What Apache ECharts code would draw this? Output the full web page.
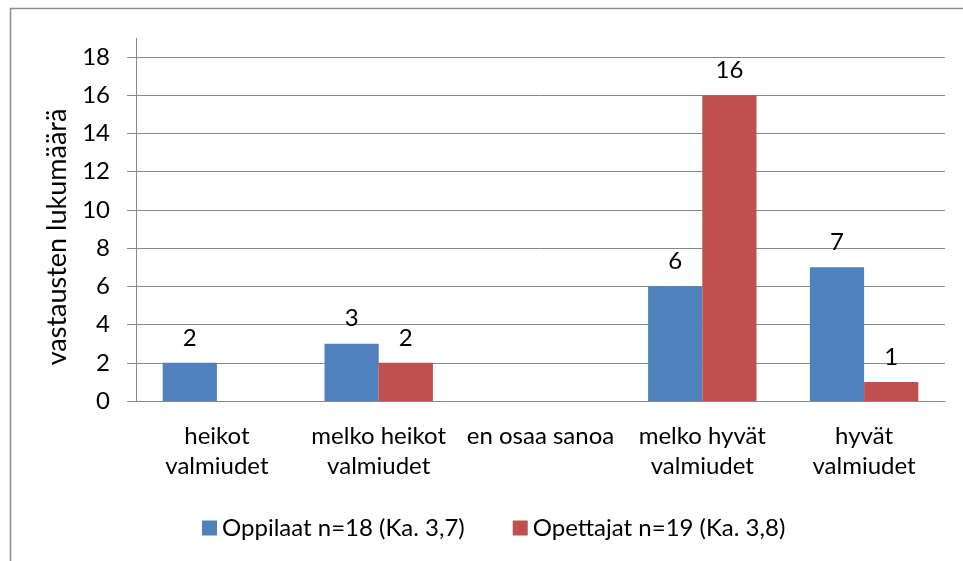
<!DOCTYPE html>
<html>
<head>
<meta charset="utf-8">
<script src="https://cdn.jsdelivr.net/npm/echarts@6/dist/echarts.min.js"></script>
<style>
  html, body { margin: 0; padding: 0; background: #fff; }
  #chart { width: 963px; height: 561px; }
</style>
</head>
<body>
<div id="chart"></div>
<script>
// datos del gráfico
const kategoriat = ['heikot\nvalmiudet', 'melko heikot\nvalmiudet', 'en osaa sanoa', 'melko hyvät\nvalmiudet', 'hyvät\nvalmiudet'];
const oppilaat = [2, 3, 0, 6, 7];
const opettajat = [0, 2, 0, 16, 1];
const sarjaNimet = ['Oppilaat n=18 (Ka. 3,7)', 'Opettajat n=19 (Ka. 3,8)'];
const yNimi = 'vastausten lukumäärä';

const fontti = 'Lato, "Open Sans", sans-serif';
const harmaa = '#888888';
const koko = 24;

const chart = echarts.init(document.getElementById('chart'));

const etiketti = {
    show: true,
    position: 'top',
    distance: 13,
    color: '#000',
    fontSize: koko,
    fontFamily: fontti,
    formatter: p => (p.value === 0 ? '' : p.value)
};

const option = {
    animation: false,
    textStyle: { fontFamily: fontti },
    grid: { left: 136, top: 57, right: 18, bottom: 160 },
    legend: {
        left: 197,
        top: 511,
        itemWidth: 15,
        itemHeight: 15,
        itemGap: 48,
        icon: 'rect',
        textStyle: { fontSize: koko, color: '#000', fontFamily: fontti },
        data: sarjaNimet
    },
    xAxis: {
        type: 'category',
        data: kategoriat,
        axisLine: { lineStyle: { color: harmaa, width: 1 } },
        axisTick: { show: false },
        axisLabel: {
            color: '#000',
            fontSize: koko,
            lineHeight: 30,
            margin: 20,
            interval: 0,
            fontFamily: fontti
        }
    },
    yAxis: {
        type: 'value',
        min: 0,
        max: 18,
        interval: 2,
        name: yNimi,
        nameLocation: 'middle',
        nameGap: 62,
        nameTextStyle: { color: '#000', fontSize: 27, fontFamily: fontti, padding: [0, 16, 0, 0] },
        axisLine: { show: true, lineStyle: { color: harmaa, width: 1 } },
        axisTick: { show: true, inside: false, length: 9, lineStyle: { color: harmaa } },
        axisLabel: { color: '#000', fontSize: koko, margin: 26, fontFamily: fontti },
        splitLine: { lineStyle: { color: harmaa, width: 1 } }
    },
    series: [
        {
            name: sarjaNimet[0],
            type: 'bar',
            data: oppilaat,
            barGap: '0%',
            barCategoryGap: '33%',
            itemStyle: { color: '#4F81BD' },
            label: etiketti
        },
        {
            name: sarjaNimet[1],
            type: 'bar',
            data: opettajat,
            itemStyle: { color: '#C0504D' },
            label: etiketti
        }
    ],
    graphic: [
        // reunus
        {
            type: 'rect',
            shape: { x: 10.5, y: 8.5, width: 1000, height: 600 },
            style: { fill: 'none', stroke: '#8c8c8c', lineWidth: 1.5 },
            silent: true
        },
        // y-akselin jatke
        {
            type: 'line',
            shape: { x1: 136.5, y1: 38, x2: 136.5, y2: 57 },
            style: { stroke: harmaa, lineWidth: 1 },
            silent: true
        }
    ]
};

chart.setOption(option);
</script>
</body>
</html>
